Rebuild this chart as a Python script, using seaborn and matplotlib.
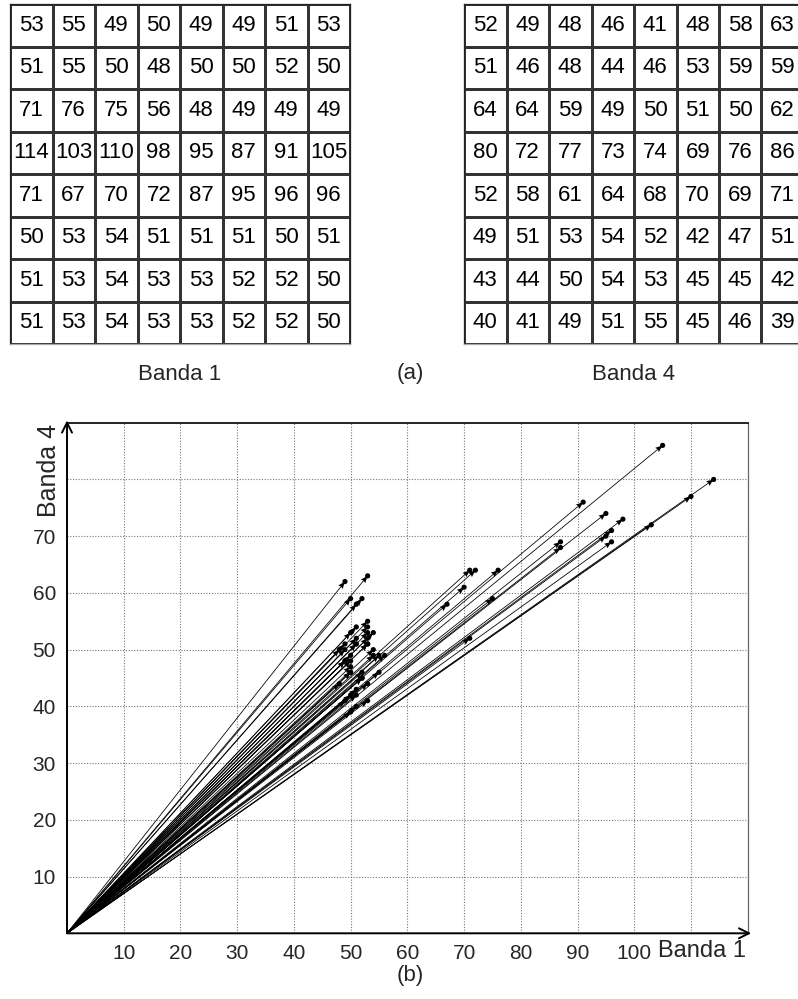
import numpy as np
import pandas as pd
import seaborn as sns
import matplotlib.pyplot as plt
from matplotlib.colors import ListedColormap

# Pixel values of the two 8x8 windows
banda1 = [
    [53, 55, 49, 50, 49, 49, 51, 53],
    [51, 55, 50, 48, 50, 50, 52, 50],
    [71, 76, 75, 56, 48, 49, 49, 49],
    [114, 103, 110, 98, 95, 87, 91, 105],
    [71, 67, 70, 72, 87, 95, 96, 96],
    [50, 53, 54, 51, 51, 51, 50, 51],
    [51, 53, 54, 53, 53, 52, 52, 50],
    [51, 53, 54, 53, 53, 52, 52, 50],
]
banda4 = [
    [52, 49, 48, 46, 41, 48, 58, 63],
    [51, 46, 48, 44, 46, 53, 59, 59],
    [64, 64, 59, 49, 50, 51, 50, 62],
    [80, 72, 77, 73, 74, 69, 76, 86],
    [52, 58, 61, 64, 68, 70, 69, 71],
    [49, 51, 53, 54, 52, 42, 47, 51],
    [43, 44, 50, 54, 53, 45, 45, 42],
    [40, 41, 49, 51, 55, 45, 46, 39],
]
xticks = [10, 20, 30, 40, 50, 60, 70, 80, 90, 100, 110]
xtick_labels = ['10', '20', '30', '40', '50', '60', '70', '80', '90', '100', '']
yticks = [10, 20, 30, 40, 50, 60, 70, 80]
ytick_labels = ['10', '20', '30', '40', '50', '60', '70', '']

sns.set_style('white')
plt.rcParams['font.family'] = ['Liberation Sans', 'DejaVu Sans']

W, H = 798, 999
fig = plt.figure(figsize=(W / 100, H / 100), dpi=100)

white = ListedColormap(['white'])


def grid_panel(data, x0, label):
    ax = fig.add_axes([x0 / W, (H - 344) / H, 340 / W, 340 / H])
    sns.heatmap(np.array(data), annot=True, fmt='d', cmap=white, cbar=False,
                linewidths=0.75, linecolor='#333333', xticklabels=False,
                yticklabels=False, ax=ax,
                annot_kws={'fontsize': 16, 'color': 'black'})
    for s in ax.spines.values():
        s.set_visible(True)
        s.set_linewidth(0.9)
        s.set_color('#222222')
    ax.spines['bottom'].set_color('#aaaaaa')
    fig.text((x0 + 170) / W, 1 - 374 / H, label, ha='center', va='center', fontsize=16)
    return ax


grid_panel(banda1, 10, 'Banda 1')
grid_panel(banda4, 464, 'Banda 4')
fig.text(410 / W, 1 - 374 / H, '(a)', ha='center', va='center', fontsize=16)

# Vector plot
df = pd.DataFrame({'b1': np.ravel(banda1), 'b4': np.ravel(banda4)})

ax = fig.add_axes([67 / W, (H - 933.3) / H, 680.7 / W, 510.6 / H])
ax.set_xlim(0, 120)
ax.set_ylim(0, 90)
ax.quiver(np.zeros(len(df)), np.zeros(len(df)), df['b1'], df['b4'],
          angles='xy', scale_units='xy', scale=1, units='dots',
          width=0.8, headwidth=7, headlength=9, headaxislength=8,
          color='black', zorder=3)
sns.scatterplot(data=df, x='b1', y='b4', ax=ax, color='black', s=14,
                edgecolor='none', zorder=4, legend=False)

ax.set_xticks(xticks)
ax.set_xticklabels(xtick_labels, fontsize=15)
ax.set_yticks(yticks)
ax.set_yticklabels(ytick_labels, fontsize=15)
ax.tick_params(length=0, pad=8)
ax.grid(True, color='#777777', linestyle=(0, (1, 1.5)), linewidth=0.8)
ax.set_xlabel('')
ax.set_ylabel('')

for side in ['left', 'bottom']:
    ax.spines[side].set_visible(False)
ax.spines['top'].set_color('black')
ax.spines['top'].set_linewidth(1.2)
ax.spines['right'].set_color('#666666')
ax.spines['right'].set_linewidth(0.9)

# axis arrows
ax.annotate('', xy=(120.6, 0), xytext=(0, 0), annotation_clip=False,
            arrowprops=dict(arrowstyle='->', lw=1.4, color='black',
                            shrinkA=0, shrinkB=0, mutation_scale=18))
ax.annotate('', xy=(0, 90.4), xytext=(0, 0), annotation_clip=False,
            arrowprops=dict(arrowstyle='->', lw=1.4, color='black',
                            shrinkA=0, shrinkB=0, mutation_scale=18))

fig.text(746 / W, 1 - 951 / H, 'Banda 1', ha='right', va='center', fontsize=17)
fig.text(49 / W, 1 - 470 / H, 'Banda 4', ha='center', va='center', fontsize=18,
         rotation=90)
fig.text(410 / W, 1 - 975 / H, '(b)', ha='center', va='center', fontsize=16)

fig.savefig('out.png', dpi=100)
